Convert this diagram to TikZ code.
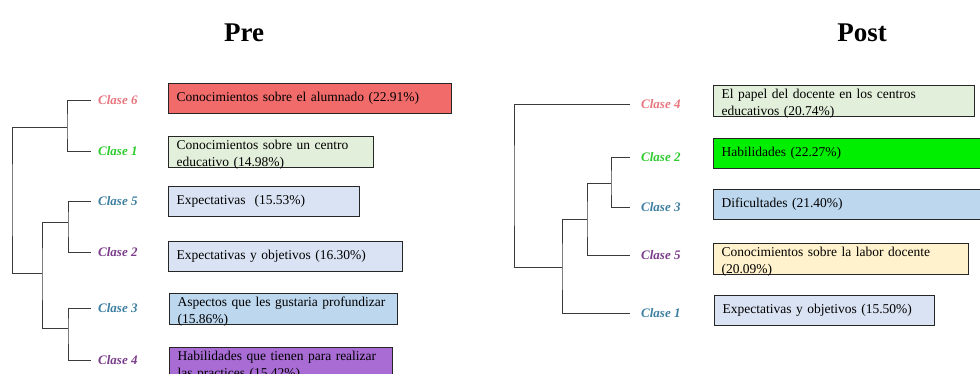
\documentclass[tikz,border=0pt]{standalone}
\usepackage{fontspec}
\setmainfont{Liberation Serif}
\definecolor{boxred}{HTML}{F26B6B}
\definecolor{boxlgreen}{HTML}{E2EFDA}
\definecolor{boxlblue}{HTML}{DAE3F3}
\definecolor{boxmblue}{HTML}{BDD7EE}
\definecolor{boxpurple}{HTML}{A86CD4}
\definecolor{boxgreen}{HTML}{00EE00}
\definecolor{boxyellow}{HTML}{FFF2CC}
\definecolor{cpink}{HTML}{E8767E}
\definecolor{cgreen}{HTML}{2ECC2E}
\definecolor{cteal}{HTML}{3E7FA0}
\definecolor{cpurple}{HTML}{7A3D8A}
\definecolor{treecol}{HTML}{3A3A3A}
\begin{document}
\begin{tikzpicture}[x=1pt,y=-1pt,
  titlestyle/.style={anchor=base, font=\fontsize{27}{30}\selectfont\bfseries, inner sep=0pt},
  clase/.style={anchor=west, inner xsep=7pt, inner ysep=1pt, font=\fontsize{13}{15}\selectfont\bfseries\itshape},
  clasepost/.style={clase, inner xsep=11pt},
  catbox/.style={draw=black!85, line width=1.1pt, anchor=north west, minimum height=30pt,
     inner xsep=8pt, inner ysep=1pt, align=left, font=\fontsize{13.5}{17}\selectfont},
  twoline/.style={text height=10.5pt, text depth=16.5pt, inner ysep=2pt},
  tree/.style={draw=treecol, line width=0.9pt}
]
\useasboundingbox (0,0) rectangle (980,374);
\clip (0,0) rectangle (980,374);
\fill[white] (0,0) rectangle (980,374);

% titles
\node[titlestyle] (tpre) at (244,42) {Pre};
\node[titlestyle] (tpost) at (862,42) {Post};

% ---------------- Pre ----------------
\node[clase, text=cpink]   (l6) at (91,100) {Clase 6};
\node[clase, text=cgreen]  (l1) at (91,151) {Clase 1};
\node[clase, text=cteal]   (l5) at (91,201) {Clase 5};
\node[clase, text=cpurple] (l2) at (91,252) {Clase 2};
\node[clase, text=cteal]   (l3) at (91,308) {Clase 3};
\node[clase, text=cpurple] (l4) at (91,360) {Clase 4};

\coordinate (jA) at (67,127);
\coordinate (jB) at (68,222);
\coordinate (jC) at (68,328);
\coordinate (jD) at (42,273);
\coordinate (jR) at (12,200);

\draw[tree] (l6.west) -| (jA) |- (l1.west);
\draw[tree] (l5.west) -| (jB) |- (l2.west);
\draw[tree] (l3.west) -| (jC) |- (l4.west);
\draw[tree] (jB) -| (jD) |- (jC);
\draw[tree] (jA) -| (jR) |- (jD);

\node[catbox, fill=boxred, text width=267pt] (b6) at (168,83) {Conocimientos sobre el alumnado (22.91\%)};
\node[catbox, twoline, fill=boxlgreen, text width=189pt] (b1) at (168,136) {Conocimientos sobre un centro\\educativo (14.98\%)};
\node[catbox, fill=boxlblue, text width=175pt] (b5) at (168,186) {Expectativas\ \ (15.53\%)};
\node[catbox, fill=boxlblue, text width=218pt] (b2) at (168,241) {Expectativas y objetivos (16.30\%)};
\node[catbox, twoline, fill=boxmblue, text width=212pt] (b3) at (169,293) {Aspectos que les gustaria profundizar\\(15.86\%)};
\node[catbox, twoline, fill=boxpurple, text width=207pt, text depth=30pt] (b4) at (169,347) {Habilidades que tienen para realizar\\las practices (15.42\%)};

% ---------------- Post ----------------
\node[clasepost, text=cpink]   (c4) at (630,104) {Clase 4};
\node[clasepost, text=cgreen]  (c2) at (630,157) {Clase 2};
\node[clasepost, text=cteal]   (c3) at (630,207) {Clase 3};
\node[clasepost, text=cpurple] (c5) at (630,255) {Clase 5};
\node[clasepost, text=cteal]   (c1) at (630,313) {Clase 1};

\coordinate (k23)  at (611,183);
\coordinate (k235) at (587,219);
\coordinate (kX)   at (562,267);
\coordinate (kR)   at (514,185);

\draw[tree] (c2.west) -| (k23) |- (c3.west);
\draw[tree] (k23) -| (k235) |- (c5.west);
\draw[tree] (k235) -| (kX) |- (c1.west);
\draw[tree] (c4.west) -| (kR) |- (kX);

\node[catbox, twoline, fill=boxlgreen, text width=245pt] (d4) at (713,85) {El papel del docente en los centros\\educativos (20.74\%)};
\node[catbox, fill=boxgreen, text width=270pt] (d2) at (713,138) {Habilidades (22.27\%)};
\node[catbox, fill=boxmblue, text width=270pt] (d3) at (713,189) {Dificultades (21.40\%)};
\node[catbox, twoline, fill=boxyellow, text width=239pt] (d5) at (713,243) {Conocimientos sobre la labor docente\\(20.09\%)};
\node[catbox, fill=boxlblue, text width=204pt] (d1) at (714,295) {Expectativas y objetivos (15.50\%)};
\end{tikzpicture}
\end{document}
